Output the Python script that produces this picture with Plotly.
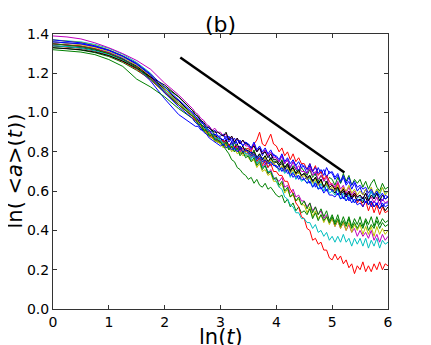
import plotly.graph_objects as go

# time axis, ln(t): coarse where curves are smooth, fine where they get noisy
X = [0, 0.25, 0.5, 0.75, 1.0, 1.25, 1.5, 1.75, 2.0, 2.25,
     2.5, 2.55, 2.6, 2.65, 2.7, 2.75, 2.8, 2.85, 2.9, 2.95,
     3.0, 3.05, 3.1, 3.15, 3.2, 3.25, 3.3, 3.35, 3.4, 3.45,
     3.5, 3.55, 3.6, 3.65, 3.7, 3.75, 3.8, 3.85, 3.9, 3.95,
     4.0, 4.05, 4.1, 4.15, 4.2, 4.25, 4.3, 4.35, 4.4, 4.45,
     4.5, 4.55, 4.6, 4.65, 4.7, 4.75, 4.8, 4.85, 4.9, 4.95,
     5.0, 5.05, 5.1, 5.15, 5.2, 5.25, 5.3, 5.35, 5.4, 5.45,
     5.5, 5.55, 5.6, 5.65, 5.7, 5.75, 5.8, 5.85, 5.9, 5.95,
     6.0]

BLUE_1 = [1.36, 1.355, 1.348, 1.335, 1.315, 1.285, 1.245, 1.19, 1.12, 1.06,
          0.99, 0.98, 0.96, 0.96, 0.94, 0.92, 0.93, 0.90, 0.91, 0.88,
          0.88, 0.89, 0.86, 0.88, 0.85, 0.87, 0.84, 0.86, 0.83, 0.85,
          0.83, 0.81, 0.84, 0.80, 0.82, 0.78, 0.81, 0.79, 0.76, 0.79,
          0.77, 0.75, 0.78, 0.74, 0.76, 0.72, 0.75, 0.73, 0.70, 0.74,
          0.72, 0.69, 0.73, 0.70, 0.68, 0.72, 0.69, 0.71, 0.67, 0.70,
          0.69, 0.66, 0.68, 0.64, 0.67, 0.63, 0.65, 0.61, 0.64, 0.60,
          0.62, 0.58, 0.61, 0.57, 0.60, 0.56, 0.59, 0.57, 0.55, 0.58,
          0.57]
GREEN_1 = [1.33, 1.326, 1.318, 1.305, 1.285, 1.255, 1.215, 1.17, 1.13, 1.08,
           1.01, 0.99, 0.98, 0.95, 0.94, 0.92, 0.90, 0.91, 0.88, 0.87,
           0.86, 0.84, 0.86, 0.83, 0.82, 0.85, 0.81, 0.83, 0.80, 0.82,
           0.80, 0.78, 0.81, 0.77, 0.79, 0.76, 0.78, 0.74, 0.77, 0.75,
           0.75, 0.73, 0.76, 0.72, 0.74, 0.70, 0.73, 0.71, 0.69, 0.72,
           0.70, 0.68, 0.71, 0.67, 0.69, 0.65, 0.68, 0.66, 0.64, 0.67,
           0.66, 0.63, 0.67, 0.64, 0.69, 0.65, 0.68, 0.63, 0.66, 0.64,
           0.66, 0.62, 0.65, 0.61, 0.64, 0.66, 0.62, 0.60, 0.64, 0.61,
           0.62]
RED_1 = [1.34, 1.335, 1.327, 1.313, 1.29, 1.26, 1.22, 1.165, 1.10, 1.04,
         0.98, 0.96, 0.95, 0.93, 0.91, 0.90, 0.88, 0.87, 0.87, 0.85,
         0.85, 0.83, 0.86, 0.82, 0.84, 0.81, 0.83, 0.80, 0.82, 0.81,
         0.82, 0.80, 0.84, 0.86, 0.90, 0.84, 0.83, 0.86, 0.89, 0.84,
         0.83, 0.80, 0.82, 0.78, 0.80, 0.76, 0.79, 0.75, 0.77, 0.74,
         0.74, 0.71, 0.74, 0.70, 0.73, 0.68, 0.70, 0.66, 0.68, 0.65,
         0.63, 0.61, 0.64, 0.59, 0.62, 0.57, 0.60, 0.56, 0.59, 0.54,
         0.56, 0.52, 0.55, 0.50, 0.54, 0.49, 0.53, 0.48, 0.52, 0.49,
         0.50]
CYAN_1 = [1.37, 1.366, 1.36, 1.347, 1.327, 1.297, 1.255, 1.20, 1.12, 1.05,
          0.98, 0.97, 0.95, 0.94, 0.91, 0.92, 0.89, 0.88, 0.86, 0.87,
          0.85, 0.83, 0.84, 0.81, 0.83, 0.80, 0.82, 0.79, 0.80, 0.78,
          0.78, 0.76, 0.79, 0.75, 0.77, 0.74, 0.76, 0.72, 0.75, 0.73,
          0.73, 0.70, 0.72, 0.69, 0.71, 0.67, 0.70, 0.66, 0.68, 0.65,
          0.66, 0.64, 0.67, 0.62, 0.65, 0.61, 0.64, 0.60, 0.63, 0.59,
          0.60, 0.58, 0.61, 0.56, 0.59, 0.55, 0.58, 0.56, 0.54, 0.57,
          0.57, 0.55, 0.59, 0.56, 0.60, 0.57, 0.61, 0.58, 0.62, 0.59,
          0.60]
MAGENTA_1 = [1.35, 1.345, 1.337, 1.323, 1.303, 1.273, 1.235, 1.18, 1.11, 1.05,
             0.99, 0.97, 0.96, 0.93, 0.93, 0.90, 0.91, 0.88, 0.87, 0.85,
             0.86, 0.84, 0.86, 0.82, 0.85, 0.81, 0.83, 0.80, 0.82, 0.79,
             0.79, 0.77, 0.79, 0.74, 0.76, 0.72, 0.74, 0.69, 0.71, 0.67,
             0.66, 0.65, 0.67, 0.62, 0.63, 0.59, 0.61, 0.57, 0.58, 0.55,
             0.55, 0.52, 0.54, 0.50, 0.52, 0.48, 0.50, 0.46, 0.48, 0.44,
             0.46, 0.42, 0.45, 0.41, 0.44, 0.40, 0.43, 0.39, 0.41, 0.37,
             0.40, 0.37, 0.39, 0.36, 0.40, 0.35, 0.38, 0.34, 0.38, 0.35,
             0.37]
YELLOW_1 = [1.36, 1.354, 1.346, 1.332, 1.31, 1.28, 1.24, 1.185, 1.11, 1.04,
            0.98, 0.96, 0.95, 0.93, 0.91, 0.90, 0.88, 0.88, 0.85, 0.86,
            0.84, 0.85, 0.82, 0.83, 0.80, 0.82, 0.79, 0.80, 0.78, 0.79,
            0.77, 0.75, 0.76, 0.72, 0.74, 0.70, 0.71, 0.68, 0.69, 0.65,
            0.65, 0.62, 0.64, 0.59, 0.61, 0.57, 0.58, 0.55, 0.56, 0.53,
            0.53, 0.49, 0.52, 0.47, 0.50, 0.46, 0.48, 0.44, 0.47, 0.43,
            0.46, 0.42, 0.45, 0.41, 0.44, 0.40, 0.44, 0.39, 0.43, 0.40,
            0.43, 0.38, 0.42, 0.38, 0.42, 0.37, 0.42, 0.38, 0.41, 0.38,
            0.40]
BLACK_1 = [1.34, 1.336, 1.33, 1.318, 1.30, 1.272, 1.235, 1.18, 1.12, 1.06,
           0.99, 0.97, 0.96, 0.94, 0.93, 0.91, 0.90, 0.88, 0.89, 0.87,
           0.87, 0.85, 0.86, 0.83, 0.85, 0.82, 0.84, 0.81, 0.83, 0.80,
           0.81, 0.79, 0.80, 0.77, 0.79, 0.76, 0.78, 0.75, 0.77, 0.74,
           0.75, 0.73, 0.74, 0.71, 0.73, 0.70, 0.72, 0.69, 0.70, 0.68,
           0.69, 0.66, 0.68, 0.65, 0.67, 0.63, 0.66, 0.62, 0.64, 0.61,
           0.61, 0.59, 0.62, 0.58, 0.60, 0.57, 0.59, 0.56, 0.58, 0.55,
           0.56, 0.54, 0.57, 0.53, 0.55, 0.52, 0.54, 0.51, 0.53, 0.50,
           0.52]
BLUE_2 = [1.35, 1.345, 1.338, 1.325, 1.305, 1.275, 1.23, 1.16, 1.07, 0.99,
          0.94, 0.93, 0.93, 0.91, 0.92, 0.90, 0.89, 0.88, 0.87, 0.86,
          0.85, 0.86, 0.84, 0.83, 0.85, 0.82, 0.81, 0.83, 0.80, 0.81,
          0.79, 0.80, 0.77, 0.78, 0.76, 0.77, 0.74, 0.75, 0.73, 0.74,
          0.72, 0.73, 0.70, 0.72, 0.69, 0.70, 0.67, 0.69, 0.66, 0.68,
          0.66, 0.67, 0.64, 0.66, 0.62, 0.65, 0.61, 0.63, 0.60, 0.62,
          0.60, 0.61, 0.58, 0.60, 0.56, 0.59, 0.55, 0.57, 0.54, 0.56,
          0.55, 0.57, 0.54, 0.56, 0.52, 0.55, 0.53, 0.56, 0.52, 0.54,
          0.54]
GREEN_2 = [1.32, 1.315, 1.308, 1.295, 1.27, 1.235, 1.17, 1.13, 1.08, 1.02,
           0.97, 0.95, 0.94, 0.92, 0.91, 0.89, 0.89, 0.87, 0.86, 0.85,
           0.85, 0.83, 0.81, 0.79, 0.76, 0.75, 0.72, 0.71, 0.69, 0.68,
           0.66, 0.67, 0.64, 0.66, 0.63, 0.62, 0.64, 0.61, 0.62, 0.60,
           0.58, 0.57, 0.58, 0.54, 0.56, 0.52, 0.54, 0.50, 0.52, 0.49,
           0.50, 0.48, 0.51, 0.46, 0.49, 0.45, 0.48, 0.45, 0.47, 0.44,
           0.47, 0.43, 0.46, 0.42, 0.45, 0.42, 0.46, 0.41, 0.44, 0.41,
           0.44, 0.41, 0.45, 0.40, 0.43, 0.41, 0.45, 0.41, 0.44, 0.42,
           0.43]
RED_2 = [1.35, 1.346, 1.339, 1.325, 1.303, 1.27, 1.23, 1.175, 1.105, 1.04,
         0.98, 0.96, 0.95, 0.93, 0.92, 0.90, 0.90, 0.87, 0.88, 0.86,
         0.85, 0.86, 0.83, 0.84, 0.82, 0.83, 0.81, 0.82, 0.79, 0.81,
         0.79, 0.77, 0.79, 0.75, 0.77, 0.73, 0.76, 0.72, 0.74, 0.70,
         0.70, 0.68, 0.68, 0.65, 0.65, 0.61, 0.59, 0.54, 0.52, 0.47,
         0.46, 0.41, 0.40, 0.35, 0.36, 0.33, 0.34, 0.30, 0.30, 0.26,
         0.25, 0.28, 0.25, 0.27, 0.23, 0.25, 0.21, 0.23, 0.18, 0.22,
         0.20, 0.24, 0.19, 0.22, 0.19, 0.23, 0.20, 0.24, 0.20, 0.23,
         0.22]
CYAN_2 = [1.34, 1.336, 1.328, 1.315, 1.295, 1.265, 1.225, 1.17, 1.11, 1.05,
          0.99, 0.97, 0.95, 0.94, 0.92, 0.92, 0.89, 0.89, 0.87, 0.87,
          0.86, 0.84, 0.85, 0.82, 0.84, 0.81, 0.82, 0.79, 0.81, 0.79,
          0.79, 0.77, 0.78, 0.74, 0.76, 0.72, 0.73, 0.70, 0.70, 0.67,
          0.65, 0.62, 0.61, 0.57, 0.56, 0.53, 0.52, 0.49, 0.49, 0.46,
          0.46, 0.44, 0.44, 0.41, 0.43, 0.39, 0.40, 0.37, 0.39, 0.35,
          0.37, 0.34, 0.37, 0.34, 0.38, 0.34, 0.36, 0.32, 0.36, 0.33,
          0.36, 0.32, 0.36, 0.31, 0.35, 0.32, 0.36, 0.31, 0.35, 0.33,
          0.34]
MAGENTA_2 = [1.39, 1.385, 1.375, 1.355, 1.33, 1.30, 1.265, 1.22, 1.15, 1.09,
             1.02, 1.00, 0.99, 0.97, 0.96, 0.94, 0.93, 0.91, 0.92, 0.90,
             0.90, 0.88, 0.89, 0.86, 0.88, 0.85, 0.87, 0.84, 0.86, 0.83,
             0.83, 0.81, 0.84, 0.80, 0.82, 0.79, 0.81, 0.78, 0.80, 0.77,
             0.77, 0.75, 0.78, 0.74, 0.76, 0.72, 0.75, 0.71, 0.73, 0.70,
             0.70, 0.69, 0.72, 0.68, 0.70, 0.66, 0.68, 0.65, 0.67, 0.63,
             0.64, 0.62, 0.65, 0.61, 0.63, 0.59, 0.62, 0.58, 0.60, 0.57,
             0.58, 0.56, 0.59, 0.55, 0.57, 0.54, 0.57, 0.53, 0.56, 0.54,
             0.55]
YELLOW_2 = [1.37, 1.365, 1.357, 1.343, 1.32, 1.29, 1.25, 1.195, 1.12, 1.05,
            0.99, 0.97, 0.95, 0.93, 0.92, 0.89, 0.90, 0.87, 0.86, 0.85,
            0.84, 0.82, 0.84, 0.81, 0.83, 0.80, 0.82, 0.79, 0.81, 0.80,
            0.80, 0.78, 0.79, 0.76, 0.78, 0.75, 0.77, 0.74, 0.76, 0.74,
            0.73, 0.71, 0.73, 0.70, 0.72, 0.69, 0.71, 0.68, 0.70, 0.67,
            0.68, 0.66, 0.67, 0.64, 0.66, 0.63, 0.65, 0.62, 0.64, 0.61,
            0.62, 0.60, 0.63, 0.59, 0.62, 0.60, 0.63, 0.59, 0.61, 0.58,
            0.60, 0.58, 0.61, 0.59, 0.62, 0.58, 0.61, 0.59, 0.62, 0.58,
            0.60]
BLACK_2 = [1.33, 1.326, 1.32, 1.308, 1.29, 1.262, 1.225, 1.18, 1.14, 1.08,
           1.01, 0.99, 0.98, 0.96, 0.95, 0.93, 0.92, 0.91, 0.90, 0.90,
           0.89, 0.88, 0.90, 0.86, 0.88, 0.85, 0.87, 0.84, 0.86, 0.84,
           0.84, 0.82, 0.83, 0.80, 0.82, 0.79, 0.80, 0.77, 0.79, 0.76,
           0.76, 0.74, 0.75, 0.72, 0.74, 0.71, 0.72, 0.69, 0.71, 0.68,
           0.69, 0.67, 0.68, 0.65, 0.67, 0.64, 0.66, 0.62, 0.65, 0.62,
           0.63, 0.61, 0.62, 0.59, 0.61, 0.58, 0.60, 0.57, 0.59, 0.57,
           0.58, 0.56, 0.59, 0.55, 0.58, 0.56, 0.59, 0.55, 0.58, 0.56,
           0.57]
BLUE_3 = [1.36, 1.356, 1.35, 1.337, 1.317, 1.288, 1.25, 1.195, 1.13, 1.07,
          1.00, 0.98, 0.97, 0.95, 0.94, 0.92, 0.91, 0.89, 0.89, 0.88,
          0.87, 0.86, 0.88, 0.85, 0.87, 0.84, 0.86, 0.85, 0.83, 0.85,
          0.84, 0.82, 0.85, 0.81, 0.83, 0.80, 0.82, 0.79, 0.81, 0.78,
          0.78, 0.76, 0.79, 0.75, 0.77, 0.74, 0.76, 0.73, 0.75, 0.72,
          0.73, 0.71, 0.74, 0.70, 0.72, 0.69, 0.71, 0.68, 0.72, 0.69,
          0.70, 0.67, 0.69, 0.65, 0.68, 0.64, 0.67, 0.63, 0.65, 0.62,
          0.63, 0.61, 0.62, 0.59, 0.61, 0.58, 0.60, 0.57, 0.59, 0.56,
          0.57]
GREEN_3 = [1.35, 1.344, 1.336, 1.322, 1.30, 1.27, 1.23, 1.17, 1.10, 1.04,
           0.98, 0.97, 0.94, 0.94, 0.91, 0.91, 0.88, 0.89, 0.86, 0.86,
           0.85, 0.83, 0.85, 0.81, 0.83, 0.80, 0.82, 0.78, 0.80, 0.77,
           0.78, 0.75, 0.77, 0.73, 0.75, 0.71, 0.73, 0.69, 0.70, 0.66,
           0.67, 0.63, 0.65, 0.60, 0.62, 0.57, 0.59, 0.55, 0.57, 0.53,
           0.55, 0.51, 0.54, 0.49, 0.52, 0.48, 0.51, 0.47, 0.50, 0.45,
           0.48, 0.44, 0.48, 0.43, 0.47, 0.43, 0.47, 0.42, 0.46, 0.43,
           0.47, 0.42, 0.46, 0.43, 0.47, 0.42, 0.47, 0.43, 0.46, 0.44,
           0.45]
BLUE_4 = [1.37, 1.364, 1.355, 1.34, 1.318, 1.287, 1.247, 1.19, 1.10, 1.03,
          0.97, 0.95, 0.94, 0.92, 0.90, 0.89, 0.87, 0.86, 0.85, 0.84,
          0.83, 0.84, 0.82, 0.83, 0.81, 0.82, 0.80, 0.82, 0.80, 0.81,
          0.80, 0.78, 0.79, 0.76, 0.78, 0.75, 0.76, 0.74, 0.75, 0.73,
          0.73, 0.71, 0.72, 0.70, 0.71, 0.68, 0.69, 0.67, 0.68, 0.66,
          0.66, 0.64, 0.65, 0.62, 0.64, 0.61, 0.62, 0.59, 0.61, 0.58,
          0.58, 0.57, 0.59, 0.56, 0.57, 0.55, 0.57, 0.54, 0.56, 0.53,
          0.54, 0.52, 0.55, 0.53, 0.55, 0.52, 0.54, 0.51, 0.54, 0.52,
          0.53]

# guide line drawn over the curves
SLOPE_X = [2.28, 5.22]
SLOPE_Y = [1.28, 0.695]

X_TICKS = [0, 1, 2, 3, 4, 5, 6]
Y_TICKS = [0.0, 0.2, 0.4, 0.6, 0.8, 1.0, 1.2, 1.4]

# matplotlib classic colour letters
B, G, R, C, M, Y, K = "#0000ff", "#008000", "#ff0000", "#00bfbf", "#bf00bf", "#bfbf00", "#000000"

series = [
    (BLUE_1, B), (GREEN_1, G), (RED_1, R), (CYAN_1, C), (MAGENTA_1, M),
    (YELLOW_1, Y), (BLACK_1, K), (BLUE_2, B), (GREEN_2, G), (RED_2, R),
    (CYAN_2, C), (MAGENTA_2, M), (YELLOW_2, Y), (BLACK_2, K), (BLUE_3, B),
    (GREEN_3, G), (BLUE_4, B),
]

fig = go.Figure()
for vals, col in series:
    assert len(vals) == len(X)
    fig.add_trace(go.Scatter(x=X, y=vals, mode="lines",
                             line=dict(color=col, width=1)))

fig.add_trace(go.Scatter(x=SLOPE_X, y=SLOPE_Y, mode="lines",
                         line=dict(color="black", width=2.5)))

axis_style = dict(showline=True, linecolor="#333333", linewidth=1, mirror="ticks",
                  ticks="inside", ticklen=4, tickcolor="#333333",
                  showgrid=False, zeroline=False,
                  tickfont=dict(size=14, color="black"))

fig.update_xaxes(range=[0, 6], tickvals=X_TICKS, **axis_style)
fig.update_yaxes(range=[0, 1.4], tickvals=Y_TICKS, tickformat=".1f", **axis_style)

# page body has an 8px margin, so the figure is 8px smaller than the window
fig.update_layout(
    width=423, height=337,
    margin=dict(l=45, r=43, t=26, b=36),
    paper_bgcolor="white", plot_bgcolor="white",
    showlegend=False,
    font=dict(family="DejaVu Sans", color="black"),
    annotations=[
        dict(text="(b)", x=0.5, y=1.0, xref="paper", yref="paper",
             yshift=10, xanchor="center", yanchor="middle",
             showarrow=False, font=dict(size=22)),
        dict(text="ln(<i>t</i>)", x=0.5, y=0.0, xref="paper", yref="paper",
             yshift=-28, xanchor="center", yanchor="middle",
             showarrow=False, font=dict(size=21)),
        dict(text="ln( &lt;<i>a</i>&gt;(<i>t</i>))", x=0.0, y=0.5,
             xref="paper", yref="paper", xshift=-39, textangle=-90,
             xanchor="center", yanchor="middle",
             showarrow=False, font=dict(size=21)),
    ],
)

fig.write_html("out.html")
